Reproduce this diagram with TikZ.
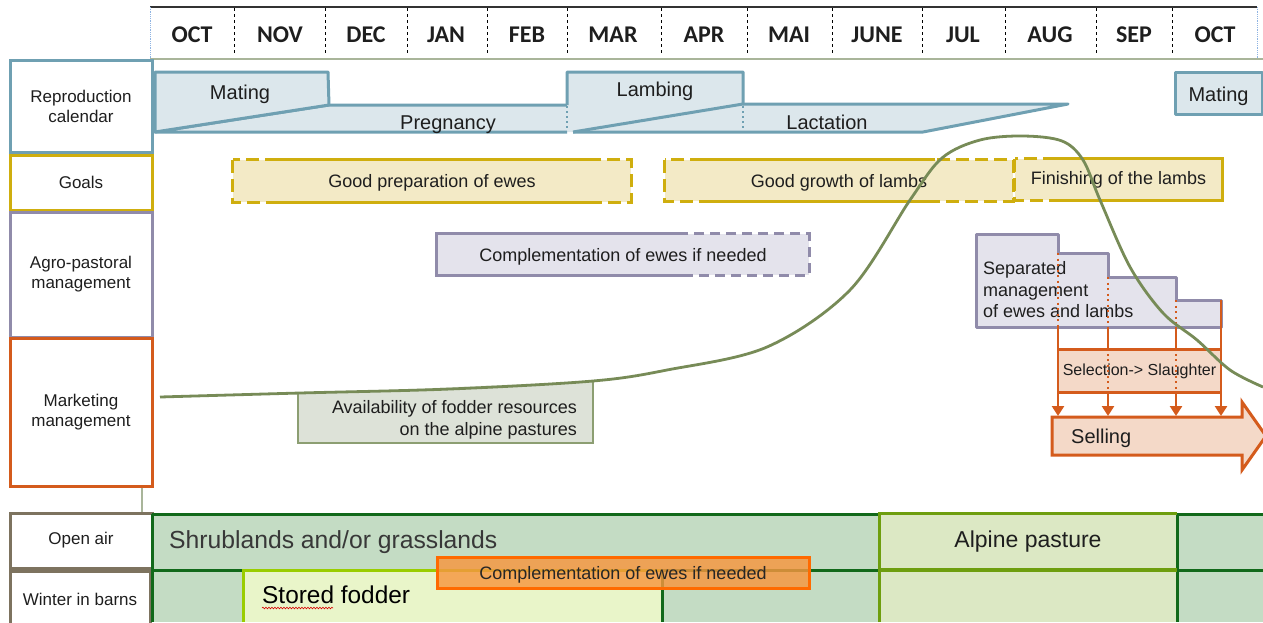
\documentclass[tikz,border=0pt]{standalone}
\usepackage{fontspec}
\setmainfont{Liberation Sans}
\newfontfamily\monthfont{Carlito}
\usetikzlibrary{arrows.meta,decorations.pathmorphing}
\definecolor{blueline}{HTML}{6FA0B2}
\definecolor{bluefill}{HTML}{DCE7EC}
\definecolor{goalline}{HTML}{CFAE0E}
\definecolor{goalfill}{HTML}{F3EAC6}
\definecolor{agroline}{HTML}{908BAA}
\definecolor{agrofill}{HTML}{E4E3EC}
\definecolor{mktline}{HTML}{D45B1C}
\definecolor{mktfill}{HTML}{F4D9C8}
\definecolor{curvegreen}{HTML}{778B57}
\definecolor{availfill}{HTML}{DDE2D8}
\definecolor{availline}{HTML}{8C9E72}
\definecolor{opengreen}{HTML}{C4DCC4}
\definecolor{darkgreen}{HTML}{11691A}
\definecolor{alpfill}{HTML}{DCE8C4}
\definecolor{alpline}{HTML}{6E9E0E}
\definecolor{storefill}{HTML}{E9F5C9}
\definecolor{storeline}{HTML}{9ACD00}
\definecolor{compfill}{HTML}{F7963F}
\definecolor{compline}{HTML}{FF6A00}
\definecolor{barnline}{HTML}{7D735F}
\definecolor{hdrline}{HTML}{A9B59A}
\definecolor{hdrblue}{HTML}{8FB4E3}
\definecolor{txtdark}{HTML}{1E1E1E}
\begin{document}
\begin{tikzpicture}[x=1pt,y=-1pt,
  rowbox/.style={draw, line width=3pt, minimum width=142pt, inner sep=0pt,
    font=\fontsize{17}{20}\selectfont, align=center, text=txtdark},
  monthlbl/.style={font=\monthfont\bfseries\fontsize{24}{26}\selectfont, inner sep=0pt, text=txtdark},
  mdiv/.style={line width=1pt, dash pattern=on 3pt off 3pt},
  phase/.style={fill=bluefill, draw=blueline, line width=3pt, line join=round},
  phasetxt/.style={font=\fontsize{20}{24}\selectfont, inner sep=0pt, text=txtdark, anchor=base},
  phasedot/.style={blueline, line width=2.2pt, dash pattern=on 2pt off 3pt},
  txtm/.style={font=\fontsize{18}{21.5}\selectfont, inner sep=0pt, text=txtdark},
  goalbox/.style={fill=goalfill, draw=none, inner sep=0pt, text depth=0pt, font=\fontsize{18}{21.5}\selectfont, text=txtdark},
  goaldash/.style={goalline, line width=3pt, dash pattern=on 13pt off 6pt},
  goalsolid/.style={goalline, line width=3pt},
  agrodash/.style={agroline, line width=3pt, dash pattern=on 10pt off 6pt},
  agrosolid/.style={agroline, line width=3pt},
  osolid/.style={mktline, line width=2.5pt},
  odot/.style={mktline, line width=2.5pt, dash pattern=on 2pt off 3.5pt},
  oarrow/.style={mktline, line width=2.5pt, -{Triangle[width=12pt,length=10pt]}},
  gline/.style={darkgreen, line width=3pt},
]
\useasboundingbox (0,0) rectangle (1263,622);

% ---------- header ----------
\draw[line width=1.2pt, black!80] (150,7) -- (1257,7);
\draw[hdrblue, line width=0.8pt, densely dotted] (150,7) -- (150,59);
\draw[hdrblue, line width=0.8pt, densely dotted] (1257,7) -- (1257,59);
\draw[hdrline, line width=2pt] (150,59) -- (1263,59);
\foreach \x in {234,325,407,487,567,661,747,832,922,1005,1096,1172}
  \draw[mdiv] (\x,8) -- (\x,54);
\foreach \x/\m [count=\i] in {192/OCT,280/NOV,366/DEC,446/JAN,527/FEB,613/MAR,704/APR,789/MAI,877/JUNE,963/JUL,1050/AUG,1134/SEP,1215/OCT}
  \node[monthlbl] (m\i) at (\x,35) {\m};

% ---------- left column ----------
\node[rowbox, draw=blueline, minimum height=92pt] (repro) at (81,106) {Reproduction\\calendar};
\node[rowbox, draw=goalline, minimum height=55pt] (goals) at (81,182.5) {Goals};
\node[rowbox, draw=agroline, minimum height=125pt] (agro) at (81,274.5) {Agro-pastoral\\management};
\node[rowbox, draw=mktline, minimum height=148pt] (mkt) at (81,412) {Marketing\\management};
\node[rowbox, draw=barnline, minimum height=55pt] (open) at (81,540.5) {Open air};
\node[rowbox, draw=barnline, minimum width=140pt, minimum height=56pt] (winter) at (80,599) {Winter in barns};
\draw[hdrline, line width=1.2pt] ([xshift=61pt]mkt.south) -- ([xshift=61pt]open.north);

% ---------- reproduction calendar ----------
\filldraw[phase] (567,132) -- (155,132) -- (329,105) -- (567,105);
\filldraw[phase] (743,104) -- (1068,104) -- (923,132) -- (573,132);
\fill[bluefill] (567,72) -- (743,72) -- (743,104) -- (573,132) -- (567,132) -- cycle;
\draw[blueline, line width=3pt, line join=round] (567,105) -- (567,72) -- (743,72) -- (743,104) -- (573,132);
\filldraw[phase] (155,72) -- (328,72) -- (329,105) -- (155,132) -- cycle;
\draw[phasedot] (567,106) -- (567,131);
\draw[phasedot] (743,106) -- (743,131);
\node[phasetxt] (mating) at (240,99) {Mating};
\node[phasetxt] (pregnancy) at (448,129) {Pregnancy};
\node[phasetxt] (lambing) at (655,96) {Lambing};
\node[phasetxt] (lactation) at (827,129) {Lactation};
\node[phase, minimum width=87pt, minimum height=42pt, inner sep=0pt] (mating2) at (1218.5,93) {};
\node[phasetxt] (mating2t) at (1218.5,101) {Mating};

% ---------- goals ----------
\node[goalbox, minimum width=398pt, minimum height=42pt] (gprep) at (432,181) {Good preparation of ewes};
\draw[goaldash] (gprep.north west) rectangle (gprep.south east);
\draw[goalsolid] ([xshift=42pt]gprep.north west) -- ([xshift=-41pt]gprep.north east);
\draw[goalsolid] ([xshift=42pt]gprep.south west) -- ([xshift=-41pt]gprep.south east);
\node[goalbox, minimum width=348pt, minimum height=41pt] (ggrow) at (839,180.5) {Good growth of lambs};
\draw[goaldash] (ggrow.north west) rectangle (ggrow.south east);
\draw[goalsolid] ([xshift=35pt]ggrow.north west) -- ([xshift=-78pt]ggrow.north east);
\draw[goalsolid] ([xshift=35pt]ggrow.south west) -- ([xshift=-78pt]ggrow.south east);
\node[goalbox, minimum width=207pt, minimum height=41pt] (gfin) at (1118.5,179.5) {};
\node[goalbox, fill=none] (gfint) at (1118.5,177.5) {Finishing of the lambs};
\draw[goaldash] (gfin.north west) rectangle (gfin.south east);
\draw[goalsolid] ([xshift=35pt]gfin.north west) -- (gfin.north east) -- (gfin.south east) -- ([xshift=35pt]gfin.south west);

% ---------- agro-pastoral ----------
\node[goalbox, fill=agrofill, minimum width=372pt, minimum height=41pt] (compl) at (623,254.5) {Complementation of ewes if needed};
\draw[agrodash] (compl.north west) rectangle (compl.south east);
\draw[agrosolid] ([xshift=248pt]compl.north west) -- (compl.north west) -- (compl.south west) -- ([xshift=248pt]compl.south west);
\filldraw[fill=agrofill, draw=agroline, line width=3pt, line join=round]
  (976,234) -- (1058,234) -- (1058,253) -- (1108,253) -- (1108,277) -- (1176,277) -- (1176,300) -- (1221,300) -- (1221,327) -- (976,327) -- cycle;
\node[txtm, align=left, anchor=west] (sep) at (983,290) {Separated\\management\\of ewes and lambs};

% ---------- marketing ----------
\coordinate (o1) at (1058,253);
\coordinate (o2) at (1108,277);
\coordinate (o3) at (1176,300);
\coordinate (o4) at (1221,300);
\coordinate (sepb) at (1100,327);
\coordinate (sellt) at (1150,416);
\filldraw[fill=mktfill, draw=mktline, line width=3pt, line join=miter]
  (1052,417) -- (1242,417) -- (1242,402) -- (1266,436) -- (1242,470) -- (1242,455) -- (1052,455) -- cycle;
\node[phasetxt, anchor=base west] (selling) at (1071,443) {Selling};
\node[fill=mktfill, draw=mktline, line width=2.5pt, minimum width=163pt, minimum height=43pt, inner sep=0pt,
  text depth=0pt, font=\fontsize{16}{19}\selectfont, text=txtdark] (sel) at (1139.5,371) {};
\node[inner sep=0pt, anchor=base, font=\fontsize{16}{19}\selectfont, text=txtdark] (selt) at (1139.5,375) {Selection-> Slaughter};
\foreach \i in {1,2,3} \draw[odot] (o\i) -- (o\i |- sepb);
\foreach \i in {1,2,3} \draw[osolid] (o\i |- sepb) -- (o\i |- sel.north);
\draw[osolid] (o4) -- (o4 |- sel.north);
\foreach \i in {2,3} \draw[odot] (o\i |- sel.north) -- (o\i |- sel.south);
\foreach \i in {1,...,4} \draw[oarrow] (o\i |- sel.south) -- (o\i |- sellt);

% ---------- fodder availability ----------
\fill[availfill] (298,394) -- (298,443) -- (593,443) -- (593,381) -- cycle;
\draw[availline, line width=2pt] (298,394) -- (298,443) -- (593,443) -- (593,381);
\draw[curvegreen, line width=2.8pt] plot[smooth, tension=0.55] coordinates {
  (160,397) (300,393) (450,389) (593,381) (667,370) (767,347) (850,290) (910,200)
  (942,158) (980,140) (1023,136) (1062,141) (1083,160) (1100,200) (1130,267)
  (1163,313) (1197,340) (1230,370) (1263,387)};
\node[txtm, align=right, anchor=east] (avail) at (577,420) {Availability of fodder resources\\on the alpine pastures};

% ---------- open air / barns ----------
\fill[opengreen] (152,514) rectangle (1263,622);
\fill[storefill] (243,570) rectangle (662,622);
\fill[alpfill] (879,513) rectangle (1177,622);
\draw[gline] (152,514) -- (879,514);
\draw[gline] (1177,514) -- (1263,514);
\draw[gline] (152,570) -- (243,570);
\draw[gline] (662,570) -- (879,570);
\draw[gline] (1177,570) -- (1263,570);
\draw[gline] (152,514) -- (152,622);
\draw[gline] (662,570) -- (662,622);
\draw[gline] (1177,513) -- (1177,622);
\draw[storeline, line width=3pt] (243,622) -- (243,570) -- (662,570);
\draw[alpline, line width=3pt] (879,622) -- (879,513) -- (1177,513);
\draw[alpline, line width=4pt] (879,569.5) -- (1177,569.5);
\node[font=\fontsize{24.7}{28}\selectfont, text=black!78, inner sep=0pt, anchor=base west] (shrub) at (169,548) {Shrublands and/or grasslands};
\node[font=\fontsize{23}{27}\selectfont, text=txtdark, inner sep=0pt, anchor=base] (alpine) at (1028,547) {Alpine pasture};
\node[font=\fontsize{24.4}{28}\selectfont, text=black, inner sep=0pt, anchor=base west] (stored) at (262,603) {Stored fodder};
\draw[red!85!black, line width=0.6pt, decorate, decoration={snake, amplitude=0.8pt, segment length=3pt}] (262,608) -- (333,608);
\node[fill=compfill, fill opacity=0.82, text opacity=1, draw=compline, line width=3pt, minimum width=372pt,
  minimum height=31pt, inner sep=0pt, text depth=0pt, font=\fontsize{18}{21}\selectfont, text=black!85] (compl2) at (623,572.5) {Complementation of ewes if needed};
\end{tikzpicture}
\end{document}
